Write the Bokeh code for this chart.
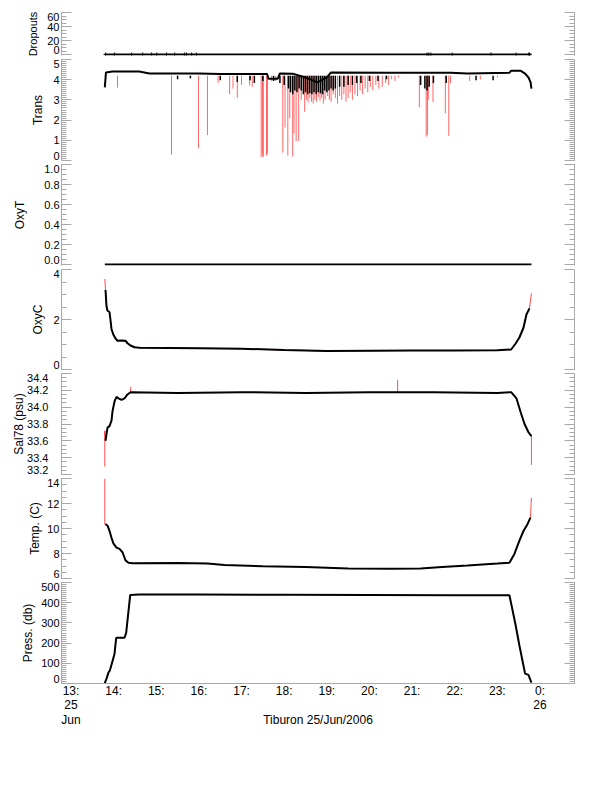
import numpy as np
from bokeh.plotting import figure
from bokeh.layouts import column
from bokeh.models import Range1d, LinearAxis, FixedTicker, CustomJSTickFormatter
from bokeh.embed import file_html
from bokeh.resources import INLINE

FONT = "Liberation Sans"
GRAY = "#a8a8a8"
RED = "#ff0000"

# ---------------- data (hours of 25 Jun 2006) ----------------
hour_ticks = [13, 14, 15, 16, 17, 18, 19, 20, 21, 22, 23, 24]
hour_labels = ["13:\n25\nJun", "14:", "15:", "16:", "17:", "18:", "19:", "20:",
               "21:", "22:", "23:", "0:\n26"]

drop_t = [13.793, 23.799]
drop_v = [0, 0]
drop_mark_t = [13.81, 14.02, 14.42, 14.68, 14.89, 15.01, 15.24, 15.43, 15.66, 15.71,
               15.83, 15.94, 21.35, 21.39, 21.44, 21.94, 22.85, 23.44, 23.74, 23.75]
drop_mark_v = [0] * 20

trans_t = [13.793, 13.82, 13.97, 14.6, 14.84, 16.0, 16.5, 17.2, 17.6, 17.63,
           17.85, 17.9, 18.2, 18.5, 18.78, 19.0, 19.1, 20.5, 21.9, 22.3,
           23.28, 23.32, 23.55, 23.65, 23.73, 23.78, 23.799]
trans_v = [3.62, 4.36, 4.41, 4.41, 4.31, 4.31, 4.28, 4.28, 4.28, 4.05,
           4.05, 4.31, 4.30, 4.11, 3.87, 4.11, 4.36, 4.34, 4.34, 4.31,
           4.34, 4.44, 4.44, 4.30, 4.11, 3.87, 3.56]
# red spikes (time, lowest value)
spike_t = [14.09, 15.357, 15.99, 16.20, 16.45, 16.72, 16.80, 16.90, 17.0, 17.19,
           17.25, 17.46, 17.49, 17.51, 17.585, 17.61, 17.70, 17.80, 17.967, 18.02,
           18.085, 18.13, 18.20, 18.23, 18.28, 18.34, 18.40, 18.48, 18.52, 18.56,
           18.60, 18.64, 18.68, 18.72, 18.76, 18.80, 18.84, 18.88, 18.92, 18.96,
           19.02, 19.06, 19.10, 19.15, 19.20, 19.25, 19.30, 19.35, 19.40, 19.45,
           19.50, 19.55, 19.60, 19.66, 19.72, 19.78, 19.84, 19.90, 19.96, 20.02,
           20.08, 20.15, 20.22, 20.30, 20.38, 20.45, 20.52, 20.60, 20.68, 21.17,
           21.33, 21.36, 21.38, 21.49, 21.78, 21.86, 21.90, 22.35, 22.60, 23.0]
spike_v = [3.61, 0.29, 0.61, 1.26, 3.84, 3.28, 3.56, 3.10, 3.74, 3.71,
           3.65, 0.15, 0.24, 0.15, 0.24, 0.34, 3.93, 3.93, 0.39, 1.63,
           0.24, 2.09, 0.20, 1.35, 0.94, 0.98, 3.01, 2.41, 3.01, 2.87,
           3.10, 2.91, 2.82, 3.01, 2.91, 3.15, 2.96, 3.10, 2.82, 3.01,
           3.19, 3.01, 2.91, 3.28, 3.10, 2.82, 3.19, 3.01, 3.28, 2.91,
           3.10, 3.38, 3.01, 3.28, 3.19, 3.47, 3.28, 3.56, 3.38, 3.65,
           3.47, 3.74, 3.56, 3.65, 3.84, 3.74, 4.02, 3.93, 4.11, 2.64,
           1.18, 1.26, 3.01, 2.90, 2.33, 1.22, 3.84, 3.93, 4.02, 4.11]
# black scatter below the trace (time, lowest value)
bnoise_t = [15.5, 15.8, 16.5, 16.9, 17.2, 17.3, 17.5, 17.75, 17.9, 18.0,
            18.1, 18.15, 18.2, 18.25, 18.3, 18.35, 18.4, 18.45, 18.5, 18.55,
            18.6, 18.65, 18.7, 18.75, 18.8, 18.85, 18.9, 18.95, 19.0, 19.05,
            19.1, 19.15, 19.2, 19.3, 19.4, 19.5, 19.6, 19.7, 19.8, 20.0,
            20.2, 20.4, 21.2, 21.3, 21.35, 21.4, 21.5, 21.8, 22.5, 22.9]
bnoise_v = [4.02, 4.07, 3.97, 3.88, 3.97, 3.84, 3.93, 3.93, 3.84, 3.74,
            3.56, 3.38, 3.28, 3.47, 3.38, 3.56, 3.47, 3.28, 3.38, 3.28,
            3.33, 3.28, 3.38, 3.28, 3.38, 3.33, 3.28, 3.47, 3.38, 3.47,
            3.56, 3.47, 3.56, 3.65, 3.65, 3.74, 3.74, 3.84, 3.84, 3.93,
            3.93, 4.02, 3.74, 3.56, 3.47, 3.65, 3.84, 3.84, 3.97, 3.97]

oxyt_t = [13.793, 23.799]
oxyt_v = [0.0, 0.0]

oxyc_t = [13.793, 13.809, 13.833, 13.856, 13.903, 13.926, 13.950, 13.997, 14.044, 14.091,
          14.184, 14.278, 14.325, 14.395, 14.489, 14.606, 16.0, 17.0, 18.0, 19.0,
          20.0, 21.0, 22.0, 23.0, 23.323, 23.424, 23.517, 23.612, 23.682, 23.752, 23.799]
oxyc_v = [3.62, 3.18, 2.53, 2.35, 2.30, 1.98, 1.61, 1.38, 1.24, 1.15,
          1.16, 1.15, 1.05, 0.96, 0.89, 0.87, 0.85, 0.83, 0.78, 0.74,
          0.75, 0.76, 0.76, 0.77, 0.80, 1.03, 1.28, 1.67, 2.20, 2.44, 3.04]

sal_t = [13.809, 13.856, 13.903, 13.950, 13.973, 14.020, 14.067, 14.114, 14.184, 14.255,
         14.325, 14.395, 15.5, 17.0, 18.5, 20.0, 21.5, 23.0, 23.323, 23.447,
         23.541, 23.635, 23.729, 23.799]
sal_v = [33.601, 33.757, 33.775, 33.839, 33.949, 34.068, 34.123, 34.105, 34.087, 34.105,
         34.151, 34.178, 34.169, 34.178, 34.169, 34.178, 34.178, 34.169, 34.178, 34.105,
         33.949, 33.803, 33.702, 33.656]
sal_red_t = [[13.793, 13.793, 13.809], [23.799, 23.799], [14.40, 14.40], [20.66, 20.66]]
sal_red_v = [[33.295, 33.720, 33.601], [33.656, 33.314], [34.17, 34.242], [34.178, 34.325]]

temp_t = [13.809, 13.856, 13.903, 13.950, 13.997, 14.067, 14.137, 14.208, 14.278, 14.348,
          14.442, 15.5, 16.2, 16.6, 17.5, 18.5, 19.5, 20.5, 21.2, 21.7,
          22.3, 23.0, 23.283, 23.400, 23.517, 23.612, 23.706, 23.776]
temp_v = [10.354, 10.225, 9.809, 9.254, 8.782, 8.468, 8.375, 8.098, 7.45, 7.265,
          7.228, 7.247, 7.191, 7.08, 6.988, 6.914, 6.803, 6.784, 6.803, 6.914,
          7.034, 7.191, 7.265, 7.968, 9.023, 9.8, 10.345, 10.872]
temp_red_t = [[13.793, 13.793, 13.809], [23.776, 23.799]]
temp_red_v = [[14.0, 10.317, 10.354], [10.872, 12.445]]

press_t = [13.793, 13.833, 13.880, 13.910, 14.020, 14.060, 14.255, 14.294, 14.388, 14.6,
           16.0, 18.0, 20.0, 22.0, 23.283, 23.424, 23.517, 23.650, 23.729, 23.799]
press_v = [1.7, 24.4, 55.3, 63.5, 146.2, 226.2, 226.2, 250.8, 438, 441,
           440, 439, 438, 437, 437, 293.5, 188, 49, 42.6, 4.4]

# ---------------- layout ----------------
xr = Range1d(12.777, 24.809)
BLANK = CustomJSTickFormatter(code="return ''")
NUDGE = 4.5  # px that the end tick labels sit inside the panel


def style_axis(ax):
    ax.axis_line_color = GRAY
    ax.major_tick_line_color = GRAY
    ax.minor_tick_line_color = GRAY
    ax.major_tick_in = 10
    ax.major_tick_out = 0
    ax.minor_tick_in = 5
    ax.minor_tick_out = 0
    ax.major_label_text_font = FONT
    ax.major_label_text_font_size = "11px"
    ax.major_label_text_color = "black"
    ax.axis_label_text_font = FONT
    ax.axis_label_text_font_size = "12px"
    ax.axis_label_text_font_style = "normal"
    ax.axis_label_text_color = "black"


def panel(top, frame_h, bottom, yr, label, majors, labels, minors, label_standoff,
          tick_standoff=2, last=False):
    lo, hi = majors[0], majors[-1]
    p = figure(width=603, height=top + frame_h + bottom, x_range=xr, y_range=Range1d(*yr),
               output_backend="svg", toolbar_location=None,
               min_border_left=61, min_border_right=29,
               min_border_top=top, min_border_bottom=bottom,
               x_axis_location="below" if last else None)
    p.outline_line_color = None
    p.grid.visible = False
    # inner axis: line and ticks only
    yax = p.yaxis[0]
    yax.ticker = FixedTicker(ticks=majors, minor_ticks=minors)
    yax.formatter = BLANK
    style_axis(yax)
    yax.major_label_standoff = 0
    # outer axis: tick labels (end labels kept inside the panel) and title
    d = NUDGE * (yr[1] - yr[0]) / frame_h
    pos = [m - d if m == hi else (m + d if m == lo else m) for m in majors]
    lax = LinearAxis(ticker=FixedTicker(ticks=pos, minor_ticks=[]),
                     formatter=CustomJSTickFormatter(args=dict(labels=labels),
                                                     code="return labels[index]"))
    style_axis(lax)
    lax.axis_line_color = None
    lax.major_tick_in = 0
    lax.minor_tick_in = 0
    lax.major_label_standoff = tick_standoff
    lax.axis_label = label
    lax.axis_label_standoff = label_standoff
    p.add_layout(lax, "left")
    rax = LinearAxis(ticker=FixedTicker(ticks=majors, minor_ticks=minors), formatter=BLANK)
    style_axis(rax)
    rax.major_label_standoff = 0
    p.add_layout(rax, "right")
    return p


p1 = panel(12, 43, 2, (-1.4, 60), "Dropouts", [0, 20, 40, 60], ["0", "20", "40", "60"],
           list(np.arange(0, 65, 5)), 5)
p1.left[1].axis_label_text_font_size = "11px"
p1.line(drop_t, drop_v, line_color="black", line_width=2)
p1.scatter(drop_mark_t, drop_mark_v, marker="cross", size=4, line_color="black")

p2 = panel(2, 101, 2, (0, 5), "Trans", [0, 1, 2, 3, 4, 5], ["0", "1", "2", "3", "4", "5"],
           list(np.round(np.arange(0, 5.05, 0.1), 2)), 5)
p2.segment(x0=spike_t, y0=[4.2] * len(spike_t), x1=spike_t, y1=spike_v,
           line_color=RED, line_width=1, line_alpha=0.6)
p2.segment(x0=bnoise_t, y0=[4.2] * len(bnoise_t), x1=bnoise_t, y1=bnoise_v,
           line_color="black", line_width=1.5)
p2.line(trans_t, trans_v, line_color="black", line_width=2)

p3 = panel(2, 101, 2, (-0.01, 1.0), "OxyT", [0, 0.2, 0.4, 0.6, 0.8, 1.0],
           ["0.0", "0.2", "0.4", "0.6", "0.8", "1.0"],
           list(np.round(np.arange(0, 1.02, 0.05), 2)), 14)
p3.line(oxyt_t, oxyt_v, line_color="black", line_width=2)

p4 = panel(2, 100, 2, (0, 4), "OxyC", [0, 2, 4], ["0", "2", "4"],
           list(np.arange(0, 4.5, 0.5)), 5)
p4.line(oxyc_t, oxyc_v, line_color=RED, line_width=1, line_alpha=0.7)
p4.line(oxyc_t[1:-1], oxyc_v[1:-1], line_color="black", line_width=2)

p5 = panel(2, 101, 2, (33.2, 34.4), "Sal78 (psu)", [33.2, 33.4, 33.6, 33.8, 34.0, 34.2, 34.4],
           ["33.2", "33.4", "33.6", "33.8", "34.0", "34.2", "34.4"],
           list(np.round(np.arange(33.2, 34.45, 0.05), 2)), -2, tick_standoff=13)
p5.multi_line(sal_red_t, sal_red_v, line_color=RED, line_width=1, line_alpha=0.7)
p5.line(sal_t, sal_v, line_color="black", line_width=2)

p6 = panel(2, 100, 2, (6, 14), "Temp. (C)", [6, 8, 10, 12, 14], ["6", "8", "10", "12", "14"],
           list(np.arange(6, 14.5, 0.5)), 2)
p6.multi_line(temp_red_t, temp_red_v, line_color=RED, line_width=1, line_alpha=0.7)
p6.line(temp_t, temp_v, line_color="black", line_width=2)

p7 = panel(2, 101, 60, (0, 500), "Press. (db)", [0, 100, 200, 300, 400, 500],
           ["0", "100", "200", "300", "400", "500"],
           list(np.arange(0, 510, 10)), 3, last=True)
p7.line(press_t, press_v, line_color="black", line_width=2)
xax = p7.below[0]
style_axis(xax)
xax.major_label_text_font_size = "12px"
xax.ticker = FixedTicker(ticks=hour_ticks, minor_ticks=[])
xax.major_label_overrides = {h: s for h, s in zip(hour_ticks, hour_labels)}
xax.major_tick_in = 0
xax.major_label_standoff = 0
xax.major_label_text_line_height = 1.05
xax.axis_label = "Tiburon 25/Jun/2006"
xax.axis_label_standoff = -17

layout = column(p1, p2, p3, p4, p5, p6, p7, spacing=0)
open("out.html", "w").write(file_html(layout, INLINE))
